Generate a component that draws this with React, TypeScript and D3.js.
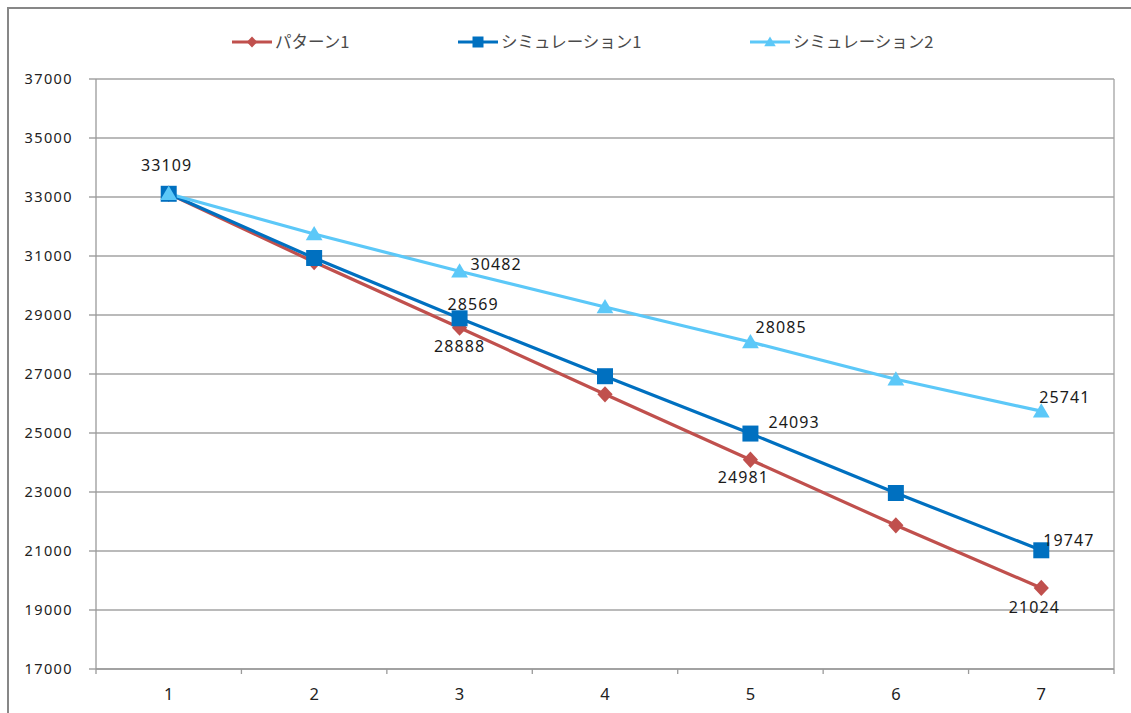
import React from "react";
import * as d3 from "d3";

// ---------- DATA ----------
const categories = ["1", "2", "3", "4", "5", "6", "7"];
const seriesNames = ["パターン1", "シミュレーション1", "シミュレーション2"];
const pattern1 = [33109, 30797, 28569, 26312, 24093, 21871, 19747];
const simulation1 = [33109, 30932, 28888, 26925, 24981, 22966, 21024];
const simulation2 = [33109, 31746, 30482, 29271, 28085, 26820, 25741];
const yTicks = [17000, 19000, 21000, 23000, 25000, 27000, 29000, 31000, 33000, 35000, 37000];
// data label texts attached to each series' points (as shown in the source)
const pattern1Labels: (number | null)[] = [null, null, 28888, null, 24981, null, 21024];
const simulation1Labels: (number | null)[] = [null, null, 28569, null, 24093, null, 19747];
const simulation2Labels: (number | null)[] = [33109, null, 30482, null, 28085, null, 25741];

// ---------- LAYOUT / STYLE ----------
const W = 1131;
const H = 713;
const plot = { left: 96, right: 1114, top: 79, bottom: 669 };
const colors = ["#C0504D", "#0070C0", "#5CC8F8"];
const markers = ["diamond", "square", "triangle"];
const labelPlacement: { anchor: string; dx: number; dy: number }[][] = [
  [
    { anchor: "middle", dx: 0, dy: 0 },
    { anchor: "middle", dx: 0, dy: 0 },
    { anchor: "middle", dx: 0, dy: 24 },
    { anchor: "middle", dx: 0, dy: 0 },
    { anchor: "middle", dx: -7, dy: 23 },
    { anchor: "middle", dx: 0, dy: 0 },
    { anchor: "middle", dx: -7, dy: 25 },
  ],
  [
    { anchor: "start", dx: 0, dy: 0 },
    { anchor: "start", dx: 0, dy: 0 },
    { anchor: "start", dx: -12, dy: -8 },
    { anchor: "start", dx: 0, dy: 0 },
    { anchor: "start", dx: 18, dy: -6 },
    { anchor: "start", dx: 0, dy: 0 },
    { anchor: "start", dx: 2, dy: -4 },
  ],
  [
    { anchor: "middle", dx: -2, dy: -23 },
    { anchor: "start", dx: 0, dy: 0 },
    { anchor: "start", dx: 11, dy: -1 },
    { anchor: "start", dx: 0, dy: 0 },
    { anchor: "start", dx: 5, dy: -9 },
    { anchor: "start", dx: 0, dy: 0 },
    { anchor: "start", dx: -2, dy: -8 },
  ],
];
const legendX = [232, 458, 750];
const legendY = 42;

const numFont = "'Noto Sans', sans-serif";
const jpFont = "'Noto Sans CJK JP', sans-serif";

function Marker({ type, x, y, color, size }: { type: string; x: number; y: number; color: string; size: number }) {
  const h = size / 2;
  let path: string;
  if (type === "diamond") {
    const p = d3.path();
    p.moveTo(0, -h * 1.02);
    p.lineTo(h * 0.95, 0);
    p.lineTo(0, h * 1.02);
    p.lineTo(-h * 0.95, 0);
    p.closePath();
    path = p.toString();
  } else if (type === "square") {
    const p = d3.path();
    p.rect(-h, -h, size, size);
    path = p.toString();
  } else {
    const p = d3.path();
    p.moveTo(0, -h * 1.0);
    p.lineTo(h * 1.05, h * 0.78);
    p.lineTo(-h * 1.05, h * 0.78);
    p.closePath();
    path = p.toString();
  }
  return <path d={path} transform={`translate(${x},${y})`} fill={color} />;
}

export default function App() {
  const x = d3.scaleBand<string>().domain(categories).range([plot.left, plot.right]).paddingInner(0).paddingOuter(0);
  const y = d3.scaleLinear().domain([17000, 37000]).range([plot.bottom, plot.top]);
  const cx = (c: string) => (x(c) as number) + x.bandwidth() / 2;

  const allSeries = [pattern1, simulation1, simulation2];
  const allLabels = [pattern1Labels, simulation1Labels, simulation2Labels];
  const line = d3
    .line<number>()
    .x((_, i) => cx(categories[i]))
    .y((d) => y(d));

  const boundaries = d3.range(categories.length + 1).map((i) => plot.left + i * x.bandwidth());

  return (
    <svg
      width={W}
      height={H}
      style={{ position: "absolute", left: 0, top: 0, background: "#fff" }}
      xmlns="http://www.w3.org/2000/svg"
    >
      <rect x={0} y={0} width={W} height={H} fill="#fff" />
      <rect x={8} y={8} width={W + 20} height={H + 20} fill="none" stroke="#878787" strokeWidth={2} />

      {yTicks.map((t) => (
        <line key={t} x1={plot.left - 7} x2={plot.right} y1={y(t)} y2={y(t)} stroke="#a3a3a3" strokeWidth={1.3} />
      ))}
      <line x1={plot.right} x2={plot.right} y1={plot.top} y2={plot.bottom} stroke="#a3a3a3" strokeWidth={1.3} />
      <line x1={plot.left} x2={plot.left} y1={plot.top} y2={plot.bottom} stroke="#9a9a9a" strokeWidth={1.3} />
      <line x1={plot.left} x2={plot.right} y1={plot.bottom} y2={plot.bottom} stroke="#9a9a9a" strokeWidth={1.3} />
      {boundaries.map((b, i) => (
        <line key={i} x1={b} x2={b} y1={plot.bottom} y2={plot.bottom + 5} stroke="#9a9a9a" strokeWidth={1.3} />
      ))}

      {yTicks.map((t) => (
        <text
          key={t}
          x={73}
          y={y(t)}
          dy="0.36em"
          textAnchor="end"
          fontFamily={numFont}
          fontSize={14.5}
          letterSpacing={1.4}
          fill="#222"
        >
          {t}
        </text>
      ))}
      {categories.map((c) => (
        <text key={c} x={cx(c)} y={700} textAnchor="middle" fontFamily={numFont} fontSize={16.5} fill="#222">
          {c}
        </text>
      ))}

      {allSeries.map((s, si) => (
        <path key={si} d={line(s) as string} fill="none" stroke={colors[si]} strokeWidth={3.2} strokeLinejoin="round" />
      ))}
      {allSeries.map((s, si) =>
        s.map((v, i) => (
          <Marker key={`${si}-${i}`} type={markers[si]} x={cx(categories[i])} y={y(v)} color={colors[si]} size={16} />
        ))
      )}

      {allLabels.map((labels, si) =>
        labels.map((lab, i) => {
          if (lab === null) return null;
          const p = labelPlacement[si][i];
          return (
            <text
              key={`l${si}-${i}`}
              x={cx(categories[i]) + p.dx}
              y={y(allSeries[si][i]) + p.dy}
              textAnchor={p.anchor}
              fontFamily={numFont}
              fontSize={16}
              letterSpacing={1.1}
              fill="#1a1a1a"
            >
              {lab}
            </text>
          );
        })
      )}

      {seriesNames.map((name, si) => (
        <g key={name}>
          <line
            x1={legendX[si]}
            x2={legendX[si] + 40}
            y1={legendY}
            y2={legendY}
            stroke={colors[si]}
            strokeWidth={3.2}
          />
          <Marker type={markers[si]} x={legendX[si] + 20} y={legendY} color={colors[si]} size={11} />
          <text
            x={legendX[si] + 43}
            y={legendY}
            dy="0.36em"
            fontFamily={jpFont}
            fontSize={16.5}
            fill="#4a4a4a"
          >
            {name}
          </text>
        </g>
      ))}
    </svg>
  );
}
